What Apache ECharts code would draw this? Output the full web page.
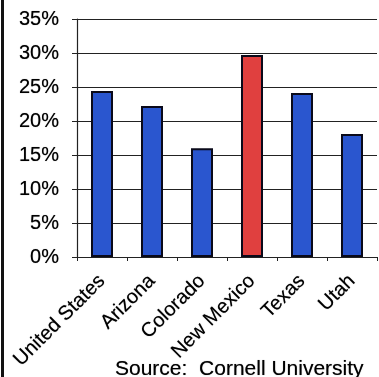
<!DOCTYPE html>
<html>
<head>
<meta charset="utf-8">
<script src="https://cdn.jsdelivr.net/npm/echarts@6/dist/echarts.min.js"></script>
<style>
  html, body { margin: 0; padding: 0; background: #fff; }
  #chart { width: 379px; height: 377px; }
</style>
</head>
<body>
<div id="chart"></div>
<script>
// Share of population (%) by area
const categories = ['United States', 'Arizona', 'Colorado', 'New Mexico', 'Texas', 'Utah'];
const values = [24.4, 22.2, 16.0, 29.7, 24.1, 18.1];
const highlight = 'New Mexico';
const sourceNote = 'Source:  Cornell University';

const BLUE = '#2a56cf';
const RED = '#e0403f';
const FONT = 'Liberation Sans, Arial, sans-serif';

const chart = echarts.init(document.getElementById('chart'), null, { renderer: 'canvas' });

chart.setOption({
  animation: false,
  backgroundColor: '#fff',
  grid: { left: 77, right: 2, top: 19, bottom: 120, containLabel: false },
  xAxis: {
    type: 'category',
    data: categories,
    axisLine: { show: true, lineStyle: { color: '#222', width: 1.2 } },
    axisTick: { show: true, alignWithLabel: false, inside: false, length: 4, lineStyle: { color: '#222' } },
    axisLabel: {
      interval: 0,
      rotate: 45,
      margin: 21,
      color: '#000',
      fontFamily: FONT,
      fontSize: 20,
      textShadowColor: 'rgba(0,0,0,0.6)',
      textShadowBlur: 0.8
    }
  },
  yAxis: {
    type: 'value',
    min: 0,
    max: 35,
    interval: 5,
    axisLine: { show: true, lineStyle: { color: '#222', width: 1.2 } },
    axisTick: { show: true, length: 5, lineStyle: { color: '#222' } },
    splitLine: { show: true, lineStyle: { color: '#222', width: 1 } },
    axisLabel: {
      formatter: '{value}%',
      margin: 18,
      color: '#000',
      fontFamily: FONT,
      fontSize: 20,
      textShadowColor: 'rgba(0,0,0,0.6)',
      textShadowBlur: 0.8
    }
  },
  series: [{
    type: 'bar',
    barWidth: '44%',
    data: categories.map((c, i) => ({
      value: values[i],
      itemStyle: { color: c === highlight ? RED : BLUE }
    })),
    itemStyle: { borderColor: '#0a0a1a', borderWidth: 2 }
  }],
  graphic: [
    {
      type: 'rect',
      left: 1, top: 0,
      shape: { width: 3, height: 377 },
      style: { fill: '#111' }
    },
    {
      type: 'text',
      left: 115, top: 359,
      style: {
        text: sourceNote, fill: '#000', font: '21px ' + FONT,
        textShadowColor: 'rgba(0,0,0,0.6)', textShadowBlur: 0.8
      }
    }
  ]
});
</script>
</body>
</html>
